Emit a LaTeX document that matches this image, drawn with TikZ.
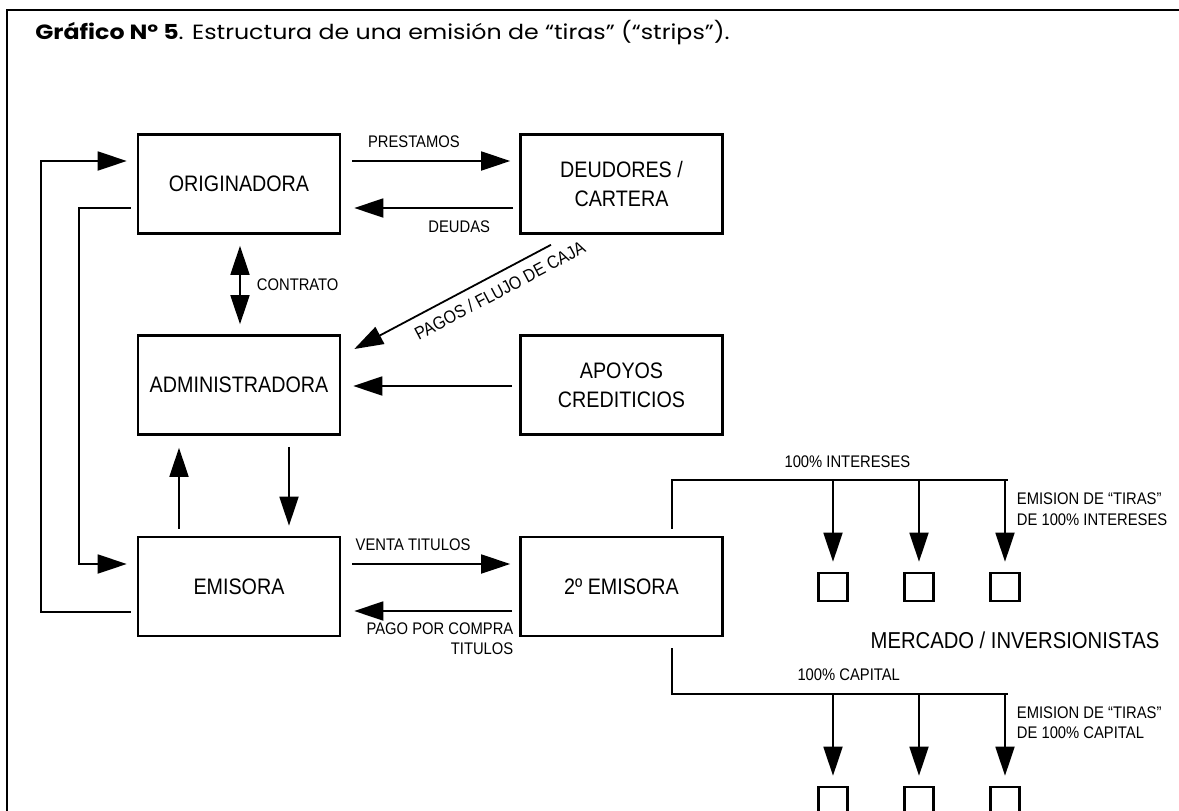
\documentclass[tikz,border=0pt]{standalone}
\usepackage{fontspec}
\setmainfont[FakeStretch=0.88]{Liberation Sans}
\newfontfamily\titlefont[FakeStretch=1.15]{Poppins}
\usetikzlibrary{arrows.meta,calc}
\tikzset{
 box/.style={draw, line width=1.3pt, minimum width=101pt, minimum height=49.5pt, inner sep=0pt, font=\fontsize{11.2}{14.5}\selectfont, align=center},
 sq/.style={draw, line width=1.3pt, minimum width=14.5pt, minimum height=14pt, inner sep=0pt},
 conn/.style={line width=0.9pt},
 arr/.style={conn, -{Triangle[length=14.5pt,width=9.5pt]}},
 darr/.style={conn, {Triangle[length=14.5pt,width=9.5pt]}-{Triangle[length=14.5pt,width=9.5pt]}},
 lbl/.style={font=\fontsize{8.4}{10}\selectfont, inner sep=0pt},
 frameline/.style={line width=1.2pt}
}
\begin{document}
\begin{tikzpicture}[x=0.5pt,y=-0.5pt]
\useasboundingbox (0,0) rectangle (1179,810);
\clip (0,0) rectangle (1179,810);
\draw[frameline] (7,830) -- (7,10) -- (1190,10);
\node[anchor=west, inner sep=0pt, font=\titlefont\fontsize{10.3}{12}\selectfont] (title) at (35,33)
  {\textbf{Gráfico Nº 5}. Estructura de una emisión de “tiras” (“strips”).};

\node[box] (orig) at (239,184) {ORIGINADORA};
\node[box] (deud) at (621.5,184) {DEUDORES /\\CARTERA};
\node[box] (admin) at (239,385) {ADMINISTRADORA};
\node[box] (apoyos) at (621.5,385) {APOYOS\\CREDITICIOS};
\node[box] (emis) at (239,586.5) {EMISORA};
\node[box] (emis2) at (621.5,586.5) {2º EMISORA};

% top row
\draw[arr] ($(orig.east)+(11,-23)$) -- node[lbl, pos=0.39, above=6pt] (lprest) {PRESTAMOS} ($(deud.west)+(-9,-23)$);
\draw[arr] ($(deud.west)+(-6,24)$) -- node[lbl, pos=0.34, below=6pt] (ldeud) {DEUDAS} ($(orig.east)+(13,24)$);
\draw[darr] ($(orig.south)+(1,11)$) -- node[lbl, pos=0.5, right=8pt] (lcont) {CONTRATO} ($(admin.north)+(1,-10)$);
\draw[arr] ($(deud.south)+(-70.5,10)$) -- node[lbl, pos=0.3, sloped, below=4.5pt, font=\fontsize{9}{10}\selectfont] (lpagos) {PAGOS / FLUJO DE CAJA} ($(admin.east)+(13,-36)$);
\draw[arr] ($(apoyos.west)+(-7,1)$) -- ($(admin.east)+(12,1)$);

% admin <-> emisora
\draw[arr] ($(emis.north)+(-60,-7)$) -- ($(admin.south)+(-60,12)$);
\draw[arr] ($(admin.south)+(50,11)$) -- ($(emis.north)+(50,-10)$);

% feedback loops
\draw[arr] ($(emis.west)+(-6,25.5)$) -| ($(orig.west)+(-96,-23)$) -- ($(orig.west)+(-10,-23)$);
\draw[arr] ($(orig.west)+(-6,24)$) -| ($(emis.west)+(-58,-22.5)$) -- ($(emis.west)+(-10,-22.5)$);

% emisora <-> 2 emisora
\draw[arr] ($(emis.east)+(11,-22.5)$) -- node[lbl, pos=0.385, above=6pt] (lventa) {VENTA TITULOS} ($(emis2.west)+(-9,-22.5)$);
\draw[arr] ($(emis2.west)+(-7,24.5)$) -- node[lbl, at start, anchor=north east, align=right, xshift=1pt, yshift=-5.5pt] (lpago) {PAGO POR COMPRA\\TITULOS} ($(emis.east)+(13,24.5)$);

% strips
\coordinate (busI) at (1008,480);
\coordinate (busC) at (1008,694);
\node[sq] (i1) at (833,587) {};
\node[sq] (i2) at (919,587) {};
\node[sq] (i3) at (1005,587) {};
\node[sq] (c1) at (833,801) {};
\node[sq] (c2) at (919,801) {};
\node[sq] (c3) at (1005,801) {};

\draw[conn] ($(emis2.north)+(50.5,-7)$) |- node[lbl, pos=0.761, above=5.5pt] (lint) {100\% INTERESES} (busI);
\draw[arr] (i1 |- busI) -- ($(i1.north)+(0,-10)$);
\draw[arr] (i2 |- busI) -- ($(i2.north)+(0,-10)$);
\draw[arr] (i3 |- busI) -- node[lbl, pos=0.355, right=5.5pt, align=left, font=\fontsize{8.4}{10.5}\selectfont] (lemi) {EMISION DE “TIRAS”\\DE 100\% INTERESES} ($(i3.north)+(0,-10)$);

\draw[conn] ($(emis2.south)+(50.5,11)$) |- node[lbl, pos=0.763, above=6pt] (lcap) {100\% CAPITAL} (busC);
\draw[arr] (c1 |- busC) -- ($(c1.north)+(0,-10)$);
\draw[arr] (c2 |- busC) -- ($(c2.north)+(0,-10)$);
\draw[arr] (c3 |- busC) -- node[lbl, pos=0.35, right=5.5pt, align=left, font=\fontsize{8.4}{10}\selectfont] (lemc) {EMISION DE “TIRAS”\\DE 100\% CAPITAL} ($(c3.north)+(0,-10)$);

\node[inner sep=0pt, font=\fontsize{11.5}{13}\selectfont] (merc) at (1015,640) {MERCADO / INVERSIONISTAS};
\end{tikzpicture}
\end{document}
